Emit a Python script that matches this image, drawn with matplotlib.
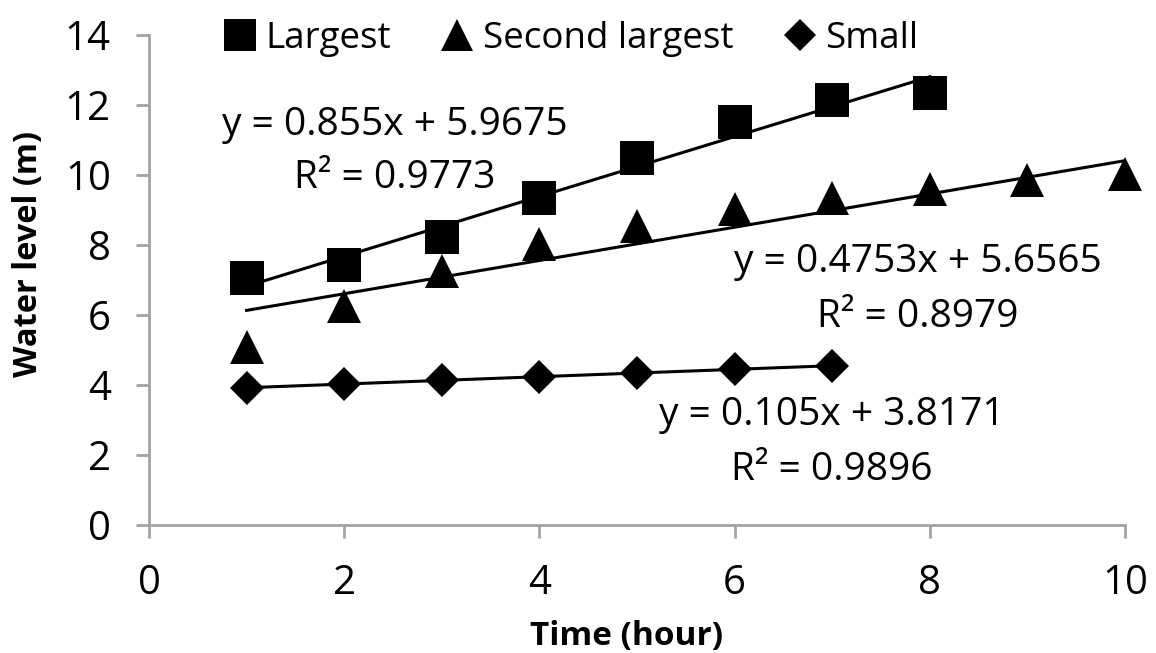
import numpy as np
import matplotlib
matplotlib.use('Agg')
import matplotlib.pyplot as plt

plt.rcParams['font.family'] = ['Open Sans', 'DejaVu Sans']

# readings
time_largest = [1, 2, 3, 4, 5, 6, 7, 8]
level_largest = [7.06, 7.43, 8.23, 9.34, 10.49, 11.51, 12.14, 12.34]

time_second = [1, 2, 3, 4, 5, 6, 7, 8, 9, 10]
level_second = [5.1, 6.25, 7.27, 8.03, 8.55, 9.03, 9.35, 9.6, 9.85, 10.02]

time_small = [1, 2, 3, 4, 5, 6, 7]
level_small = [3.91, 4.03, 4.13, 4.24, 4.35, 4.46, 4.55]

# trendline coefficients as printed on the chart
slopes = [0.855, 0.4753, 0.105]
intercepts = [5.9675, 5.6565, 3.8171]
eq_texts = ['y = 0.855x + 5.9675', 'y = 0.4753x + 5.6565', 'y = 0.105x + 3.8171']
r2_texts = ['R\u00b2 = 0.9773', 'R\u00b2 = 0.8979', 'R\u00b2 = 0.9896']

series = [
    ('Largest', time_largest, level_largest, 's', 24),
    ('Second largest', time_second, level_second, '^', 25),
    ('Small', time_small, level_small, 'D', 17.5),
]

fig = plt.figure(figsize=(11.56, 6.53), dpi=100)
ax = fig.add_axes([149 / 1156, 1 - 525 / 653, 976 / 1156, 490 / 653])

handles = []
for (name, xs, ys, mk, ms), a, b in zip(series, slopes, intercepts):
    xs = np.array(xs)
    ax.plot([xs.min(), xs.max()], [a * xs.min() + b, a * xs.max() + b],
            color='black', lw=2.2, zorder=2)
    h, = ax.plot(xs, ys, linestyle='none', marker=mk, markersize=ms,
                 color='black', markeredgewidth=0, label=name, zorder=3,
                 clip_on=False)
    handles.append(h)

# equation labels
eq_pos = [(2.52, 11.14, 9.63), (7.88, 7.23, 5.66), (7.0, 2.86, 1.29)]
for (x, y1, y2), t1, t2 in zip(eq_pos, eq_texts, r2_texts):
    ax.text(x, y1, t1, ha='center', va='baseline', fontsize=28)
    ax.text(x, y2, t2, ha='center', va='baseline', fontsize=28)

ax.set_xlim(0, 10)
ax.set_ylim(0, 14)
ax.set_xticks(range(0, 11, 2))
ax.set_yticks(range(0, 15, 2))

axis_gray = '#a3a3a3'
for side in ['top', 'right']:
    ax.spines[side].set_visible(False)
for side in ['left', 'bottom']:
    ax.spines[side].set_color(axis_gray)
    ax.spines[side].set_linewidth(2)
ax.tick_params(axis='both', direction='out', length=9.5, width=2,
               color=axis_gray, labelsize=29, labelcolor='black')
ax.tick_params(axis='y', pad=18)
ax.tick_params(axis='x', pad=18)

ax.set_xlabel('Time (hour)', fontsize=24, fontweight='bold')
ax.set_ylabel('Water level (m)', fontsize=23.5, fontweight='bold')
ax.xaxis.set_label_coords(0.489, -0.194)
ax.yaxis.set_label_coords(-0.107, 0.553)

fig.legend(handles=handles, loc='center', bbox_to_anchor=(0.493, 0.941),
           ncol=3, frameon=False, fontsize=26.5, markerscale=0.95,
           handlelength=1.0, handletextpad=0.2, columnspacing=1.3,
           borderpad=0, borderaxespad=0)

fig.savefig('out.png', dpi=100)
